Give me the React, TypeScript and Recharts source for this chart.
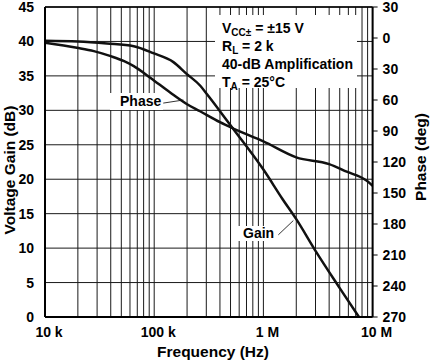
import React from 'react';
import { LineChart, Line, XAxis, YAxis, CartesianGrid, ReferenceLine } from 'recharts';

// open-loop style response
const gainFreq = [10e3, 20e3, 37e3, 65e3, 98e3, 150e3, 198e3, 263e3, 306e3, 465e3, 530e3, 1e6, 1.5e6, 2e6, 3e6, 5e6, 7.5e6];
const gainDb = [40.1, 40.0, 39.7, 39.3, 38.3, 37.0, 35.3, 33.6, 32.3, 28.5, 27.3, 21.4, 17.1, 14.2, 9.6, 4.2, 0];

const phaseFreq = [10e3, 19.6e3, 28e3, 40e3, 53e3, 65e3, 92e3, 140e3, 200e3, 263e3, 400e3, 530e3, 1e6, 2e6, 4e6, 5.8e6, 8.8e6, 10e6];
const phaseDeg = [4.6, 9.5, 12.7, 17.6, 22.4, 27.2, 38.4, 52.8, 64.1, 70.9, 81.5, 87.6, 100.1, 115.5, 122, 129.4, 138, 143];

const decades = [1e4, 1e5, 1e6];
const freqTicks = decades.flatMap((d) => [1, 2, 3, 4, 5, 6, 7, 8, 9].map((k) => k * d)).concat(1e7);
const freqLabels: Record<number, string> = { 10000: '10 k', 100000: '100 k', 1000000: '1 M', 10000000: '10 M' };
const gainTicks = [0, 5, 10, 15, 20, 25, 30, 35, 40, 45];
const phaseTicks = [-30, 0, 30, 60, 90, 120, 150, 180, 210, 240, 270];

const gainData = gainFreq.map((f, i) => ({ f, v: gainDb[i] }));
const phaseData = phaseFreq.map((f, i) => ({ f, v: phaseDeg[i] }));

const font = '"Liberation Sans", Arial, Helvetica, sans-serif';
const tickStyle = { fill: '#000', fontSize: 14, fontWeight: 700, fontFamily: font };
const titleStyle = { ...tickStyle, fontSize: 15.5 };

const vLabel = (text: string, x: number, cy: number) => () => (
  <text x={x} y={cy} transform={`rotate(-90 ${x} ${cy})`} textAnchor="middle" dominantBaseline="central" style={titleStyle}>
    {text}
  </text>
);

const xLabel = () => (
  <text x={213} y={357} textAnchor="middle" style={titleStyle}>Frequency (Hz)</text>
);

const boxText: React.CSSProperties = {
  position: 'absolute', background: '#fff', fontFamily: font, fontSize: 14, fontWeight: 700, color: '#000', whiteSpace: 'nowrap',
};
const sub: React.CSSProperties = { fontSize: 10, position: 'relative', top: 3 };

export default function App() {
  return (
    <div style={{ position: 'absolute', left: 0, top: 0, width: 431, height: 362, background: '#fff' }}>
      <LineChart width={431} height={362} margin={{ top: 7, right: 0, bottom: 0, left: 0 }}>
        <CartesianGrid yAxisId="gain" stroke="#1a1a1a" strokeWidth={1} />
        <XAxis
          dataKey="f"
          type="number"
          scale="log"
          domain={[1e4, 1e7]}
          allowDataOverflow
          ticks={freqTicks}
          interval={0}
          tickFormatter={(v) => freqLabels[v] ?? ''}
          tick={{ ...tickStyle, dx: 4 }}
          tickLine={false}
          tickSize={0}
          tickMargin={10}
          height={45}
          axisLine={{ stroke: '#000', strokeWidth: 2 }}
          label={xLabel}
        />
        <YAxis
          yAxisId="gain"
          domain={[0, 45]}
          ticks={gainTicks}
          interval={0}
          width={45}
          tick={tickStyle}
          tickLine={false}
          tickSize={0}
          tickMargin={11}
          axisLine={{ stroke: '#000', strokeWidth: 2 }}
          label={vLabel('Voltage Gain (dB)', 9, 170)}
        />
        <YAxis
          yAxisId="phase"
          orientation="right"
          domain={[-30, 270]}
          reversed
          ticks={phaseTicks}
          interval={0}
          width={58.4}
          tick={tickStyle}
          tickFormatter={(v) => String(Math.abs(v))}
          tickLine={{ stroke: '#000', strokeWidth: 1 }}
          tickSize={5}
          tickMargin={5}
          axisLine={{ stroke: '#000', strokeWidth: 2 }}
          label={vLabel('Phase (deg)', 420, 157)}
        />
        <ReferenceLine yAxisId="gain" y={45} stroke="#000" strokeWidth={1.5} />
        <ReferenceLine
          yAxisId="gain"
          segment={[{ x: 121e3, y: 31.05 }, { x: 185e3, y: 31.5 }]}
          stroke="#000"
          strokeWidth={0.8}
        />
        <ReferenceLine
          yAxisId="gain"
          segment={[{ x: 1.37e6, y: 11.93 }, { x: 1.88e6, y: 14.0 }]}
          stroke="#000"
          strokeWidth={0.8}
        />
        <Line
          yAxisId="gain"
          data={gainData}
          dataKey="v"
          type="monotone"
          stroke="#111"
          strokeWidth={2.5}
          dot={false}
          isAnimationActive={false}
        />
        <Line
          yAxisId="phase"
          data={phaseData}
          dataKey="v"
          type="monotone"
          stroke="#111"
          strokeWidth={2.5}
          dot={false}
          isAnimationActive={false}
        />
      </LineChart>

      <div style={{ ...boxText, left: 215, top: 15, width: 142, height: 73 }}>
        <div style={{ position: 'absolute', left: 7, top: 5, lineHeight: '17.2px' }}>
          <div>V<span style={sub}>CC±</span> = ±15 V</div>
          <div>R<span style={sub}>L</span> = 2 k</div>
          <div>40-dB Amplification</div>
          <div>T<span style={sub}>A</span> = 25°C</div>
        </div>
      </div>

      <div style={{ ...boxText, left: 110, top: 93, width: 53, height: 17, lineHeight: '17px' }}>
        <span style={{ marginLeft: 10 }}>Phase</span>
      </div>

      <div style={{ ...boxText, left: 232, top: 226, width: 45, height: 15, lineHeight: '15px' }}>
        <span style={{ marginLeft: 11 }}>Gain</span>
      </div>
    </div>
  );
}
